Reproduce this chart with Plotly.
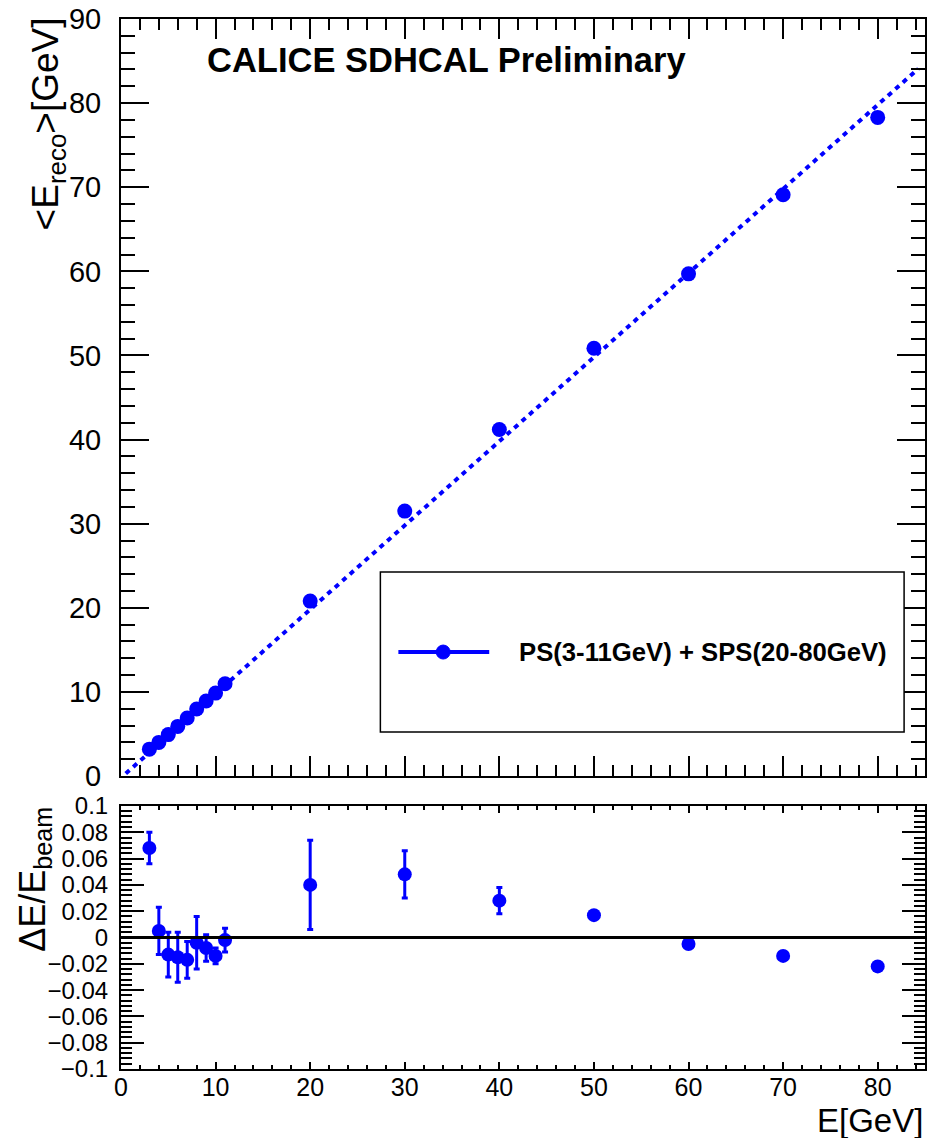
import plotly.graph_objects as go

# ---------------- data ----------------
energy = [3, 4, 5, 6, 7, 8, 9, 10, 11, 20, 30, 40, 50, 60, 70, 80]
e_reco = [3.2, 4.0, 4.93, 5.9, 6.9, 7.97, 8.93, 9.86, 10.98,
          20.8, 31.5, 41.2, 50.85, 59.7, 69.1, 78.3]
delta = [0.068, 0.005, -0.013, -0.015, -0.017, -0.004, -0.008, -0.014, -0.002,
         0.040, 0.048, 0.028, 0.017, -0.005, -0.014, -0.022]
delta_err = [0.012, 0.018, 0.017, 0.019, 0.014, 0.020, 0.010, 0.006, 0.009,
             0.034, 0.018, 0.010, 0.002, 0.002, 0.002, 0.002]
fit_x = [0.5, 84.3]
fit_y = [0.3, 84.1]

title_text = "CALICE SDHCAL Preliminary"
legend_text = "PS(3-11GeV) + SPS(20-80GeV)"
x_ticks = [0, 10, 20, 30, 40, 50, 60, 70, 80]
y_ticks_top = [0, 10, 20, 30, 40, 50, 60, 70, 80, 90]

BLUE = "#0000ff"
FONT = "Liberation Sans, Arial, Helvetica, sans-serif"

fig = go.Figure()

# fit line (top)
fig.add_trace(go.Scatter(x=fit_x, y=fit_y, mode="lines",
                         line=dict(color=BLUE, width=4, dash="5px,5px"),
                         xaxis="x", yaxis="y", showlegend=False, hoverinfo="skip"))
# data points (top)
fig.add_trace(go.Scatter(x=energy, y=e_reco, mode="markers",
                         marker=dict(color=BLUE, size=15),
                         xaxis="x", yaxis="y", name=legend_text, showlegend=False))
# residuals (bottom)
fig.add_trace(go.Scatter(x=energy, y=delta, mode="markers",
                         marker=dict(color=BLUE, size=14),
                         error_y=dict(type="data", array=delta_err, visible=True,
                                      color=BLUE, thickness=3, width=3),
                         xaxis="x2", yaxis="y2", showlegend=False))

axis_common = dict(showline=True, linecolor="black", linewidth=2, mirror="ticks",
                   ticks="inside", tickcolor="black", tickwidth=1.5,
                   showgrid=False, zeroline=False)

def tf(size):
    return dict(family=FONT, size=size, color="black")

fig.update_layout(
    width=930, height=1138,
    margin=dict(l=121, r=3, t=19, b=69),
    paper_bgcolor="white", plot_bgcolor="white",
    showlegend=False,
    xaxis=dict(domain=[0, 1], range=[0, 85], tickvals=x_ticks, ticklen=20,
               showticklabels=False, anchor="y", tickfont=tf(25),
               minor=dict(dtick=2, ticklen=11, ticks="inside", tickcolor="black", tickwidth=1.5),
               **axis_common),
    yaxis=dict(domain=[0.279, 1], range=[0, 90], tickvals=y_ticks_top, ticklen=28,
               ticklabelstandoff=12, anchor="x", tickfont=tf(29),
               minor=dict(dtick=2, ticklen=14, ticks="inside", tickcolor="black", tickwidth=1.5),
               **axis_common),
    xaxis2=dict(domain=[0, 1], range=[0, 85], tickvals=x_ticks, ticklen=7,
                ticklabelstandoff=-5, anchor="y2", tickfont=tf(25),
                minor=dict(dtick=2, ticklen=4, ticks="inside", tickcolor="black", tickwidth=1.5),
                **axis_common),
    yaxis2=dict(domain=[0, 0.2505], range=[-0.1, 0.1], dtick=0.02, tick0=0, ticklen=23,
                ticklabelstandoff=6, anchor="x2", tickfont=tf(24),
                minor=dict(dtick=0.004, ticklen=11, ticks="inside", tickcolor="black", tickwidth=1.5),
                **axis_common),
)

shapes = [
    # zero line in the ratio panel
    dict(type="line", xref="x2 domain", yref="y2", x0=0, x1=1, y0=0, y1=0,
         line=dict(color="black", width=3), layer="above"),
    # legend box
    dict(type="rect", xref="x domain", yref="y domain", x0=0.3226, x1=0.974,
         y0=0.0581, y1=0.2695, line=dict(color="black", width=1.5),
         fillcolor="white", layer="above"),
    # legend line sample
    dict(type="line", xref="x domain", yref="y domain", x0=0.345, x1=0.458,
         y0=0.1638, y1=0.1638, line=dict(color=BLUE, width=4), layer="above"),
]
# legend marker sample (circle ~14 px)
cx, cy = 0.4007, 0.1638
rx, ry = 7 / 806, 7 / 757
shapes.append(dict(type="circle", xref="x domain", yref="y domain",
                   x0=cx - rx, x1=cx + rx, y0=cy - ry, y1=cy + ry,
                   fillcolor=BLUE, line=dict(color=BLUE, width=1), layer="above"))
fig.update_layout(shapes=shapes)

annotations = [
    dict(text="<b>" + title_text + "</b>", xref="x domain", yref="y domain",
         x=0.104, y=0.946, xanchor="left", yanchor="middle", showarrow=False,
         font=dict(family=FONT, size=34.5, color="black")),
    dict(text="<b>" + legend_text + "</b>", xref="x domain", yref="y domain",
         x=0.4926, y=0.1638, xanchor="left", yanchor="middle", showarrow=False,
         font=dict(family=FONT, size=25.7, color="black")),
    dict(text="&lt;E<sub>reco</sub>&gt;[GeV]", xref="paper", yref="y domain",
         x=-0.0906, y=0.861, xanchor="center", yanchor="middle", textangle=-90,
         showarrow=False, font=dict(family=FONT, size=37, color="black")),
    dict(text="ΔE/E<sub>beam</sub>", xref="paper", yref="y2 domain",
         x=-0.108, y=0.72, xanchor="center", yanchor="middle", textangle=-90,
         showarrow=False, font=dict(family=FONT, size=36, color="black")),
    dict(text="E[GeV]", xref="paper", yref="paper",
         x=1.0, y=-0.0486, xanchor="right", yanchor="middle",
         showarrow=False, font=dict(family=FONT, size=33, color="black")),
]
fig.update_layout(annotations=annotations)

fig.write_html("out.html",
               config={"displayModeBar": False},
               post_script="document.body.style.margin='0';document.body.style.overflow='hidden';")
